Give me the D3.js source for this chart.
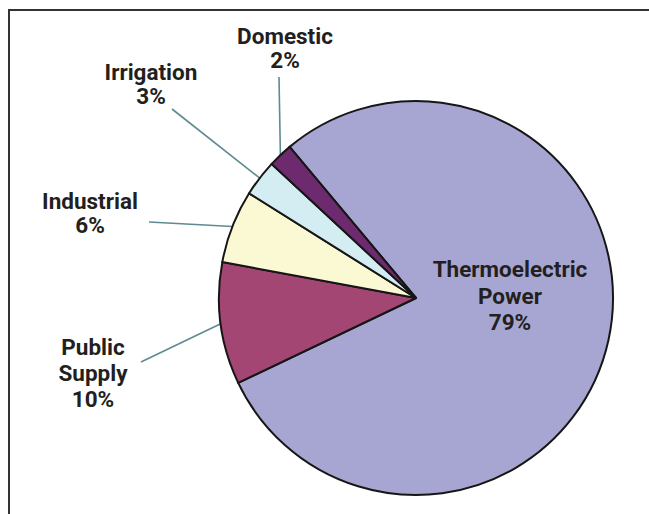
<!DOCTYPE html>
<html>
<head>
<meta charset="utf-8">
<script src="https://cdn.jsdelivr.net/npm/d3@7"></script>
<style>
  html, body { margin: 0; padding: 0; background: #fff; }
  svg text { font-family: Roboto, "Noto Sans", sans-serif; font-weight: 700; fill: #231f20; }
</style>
</head>
<body>
<div id="chart"></div>
<script>
// water withdrawals by category (percent)
const categories = ['Thermoelectric Power', 'Public Supply', 'Industrial', 'Irrigation', 'Domestic'];
const shares = [79, 10, 6, 3, 2];
const labelLines = [['Thermoelectric', 'Power'], ['Public', 'Supply'], ['Industrial'], ['Irrigation'], ['Domestic']];
const colors = ['#a7a6d2', '#a34673', '#fbf8d4', '#d4edf2', '#6d2a6f'];

// where each label sits (x centre, first baseline, line step, leader end)
const labelLayout = [
    { x: 510, y: 277, step: 26.5, leader: null },
    { x: 93, y: 355, step: 26, leader: [141, 362] },
    { x: 90, y: 209, step: 24, leader: [149, 222] },
    { x: 151, y: 80, step: 24, leader: [172, 109] },
    { x: 285, y: 44, step: 24, leader: [279, 77] }
];

const width = 649;
const height = 514;
const cx = 416, cy = 298, radius = 197;

const svg = d3.select('#chart')
    .append('svg')
    .attr('width', width)
    .attr('height', height);

// frame (only top and left edges show)
svg.append('path')
    .attr('d', `M9,${height} L9,10 L${width},10`)
    .attr('fill', 'none')
    .attr('stroke', '#333')
    .attr('stroke-width', 2);

const data = categories.map((c, i) => ({ name: c, value: shares[i], lines: labelLines[i], color: colors[i], layout: labelLayout[i] }));

const start = -39.9 / 180 * Math.PI;
const pie = d3.pie()
    .sort(null)
    .value(d => d.value)
    .startAngle(start)
    .endAngle(start + 2 * Math.PI);

const arcs = pie(data);

const arc = d3.arc().innerRadius(0).outerRadius(radius);
const edgeArc = d3.arc().innerRadius(radius).outerRadius(radius);

const g = svg.append('g').attr('transform', `translate(${cx},${cy})`);

// leader lines first so slices draw over their ends
g.selectAll('line.leader')
    .data(arcs.filter(d => d.data.layout.leader))
    .enter()
    .append('line')
    .attr('class', 'leader')
    .attr('x1', d => edgeArc.centroid(d)[0])
    .attr('y1', d => edgeArc.centroid(d)[1])
    .attr('x2', d => d.data.layout.leader[0] - cx)
    .attr('y2', d => d.data.layout.leader[1] - cy)
    .attr('stroke', '#5e8b91')
    .attr('stroke-width', 1.6);

g.selectAll('path.slice')
    .data(arcs)
    .enter()
    .append('path')
    .attr('class', 'slice')
    .attr('d', arc)
    .attr('fill', d => d.data.color)
    .attr('stroke', '#161616')
    .attr('stroke-width', 2)
    .attr('stroke-linejoin', 'round');

const labels = svg.append('g')
    .selectAll('text')
    .data(data)
    .enter()
    .append('text')
    .attr('text-anchor', 'middle')
    .attr('font-size', 22.5);

labels.each(function(d) {
    const t = d3.select(this);
    const lines = d.lines.concat([d.value + '%']);
    lines.forEach((s, i) => {
        t.append('tspan')
            .attr('x', d.layout.x)
            .attr('y', d.layout.y + i * d.layout.step)
            .text(s);
    });
});
</script>
</body>
</html>
